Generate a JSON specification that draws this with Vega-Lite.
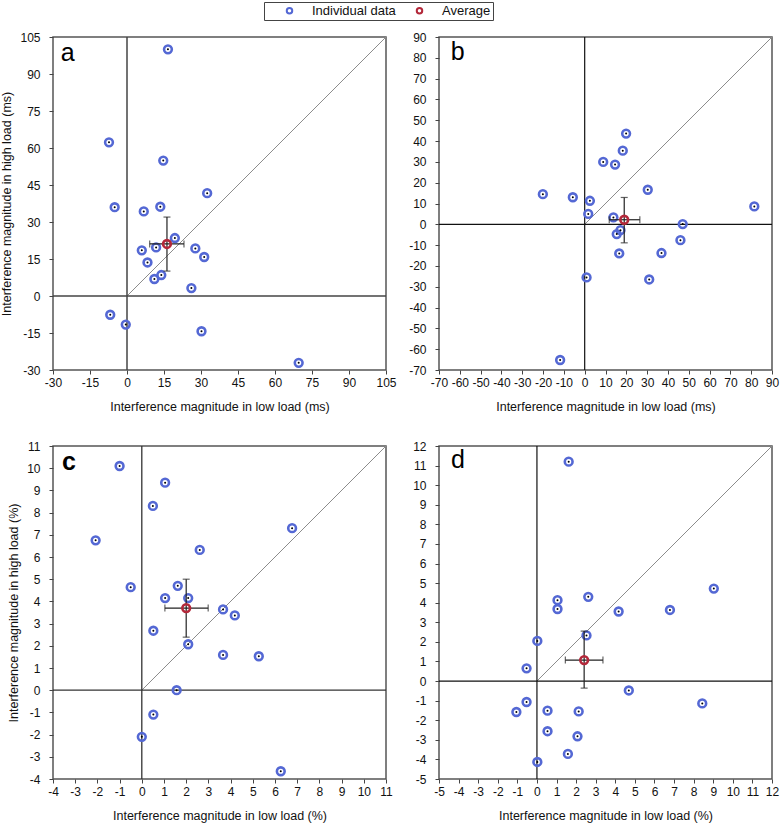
{
  "$schema": "https://vega.github.io/schema/vega-lite/v6.json",
  "padding": {"left": 0, "top": 0, "right": 2, "bottom": 0},
  "bounds": "flush",
  "columns": 2,
  "spacing": {"row": 76, "column": 53},
  "datasets": {
    "pts": [
      {"p": "a", "x": 16.6, "y": 100, "k": "Individual data"},
      {"p": "a", "x": -7.3, "y": 62.3, "k": "Individual data"},
      {"p": "a", "x": 14.7, "y": 54.9, "k": "Individual data"},
      {"p": "a", "x": 32.5, "y": 41.7, "k": "Individual data"},
      {"p": "a", "x": -5.0, "y": 36.0, "k": "Individual data"},
      {"p": "a", "x": 6.8, "y": 34.3, "k": "Individual data"},
      {"p": "a", "x": 13.5, "y": 36.2, "k": "Individual data"},
      {"p": "a", "x": 19.4, "y": 23.5, "k": "Individual data"},
      {"p": "a", "x": 11.8, "y": 19.7, "k": "Individual data"},
      {"p": "a", "x": 6.0, "y": 18.5, "k": "Individual data"},
      {"p": "a", "x": 27.7, "y": 19.3, "k": "Individual data"},
      {"p": "a", "x": 31.3, "y": 15.8, "k": "Individual data"},
      {"p": "a", "x": 8.3, "y": 13.6, "k": "Individual data"},
      {"p": "a", "x": 11.1, "y": 6.9, "k": "Individual data"},
      {"p": "a", "x": 13.9, "y": 8.5, "k": "Individual data"},
      {"p": "a", "x": 26.1, "y": 3.2, "k": "Individual data"},
      {"p": "a", "x": -6.8, "y": -7.6, "k": "Individual data"},
      {"p": "a", "x": -0.5, "y": -11.6, "k": "Individual data"},
      {"p": "a", "x": 30.2, "y": -14.3, "k": "Individual data"},
      {"p": "a", "x": 69.6, "y": -27.1, "k": "Individual data"},
      {"p": "b", "x": 19.9, "y": 43.6, "k": "Individual data"},
      {"p": "b", "x": 18.3, "y": 35.4, "k": "Individual data"},
      {"p": "b", "x": 8.9, "y": 30.0, "k": "Individual data"},
      {"p": "b", "x": 14.6, "y": 28.7, "k": "Individual data"},
      {"p": "b", "x": -20.1, "y": 14.5, "k": "Individual data"},
      {"p": "b", "x": -5.7, "y": 13.0, "k": "Individual data"},
      {"p": "b", "x": 2.5, "y": 11.3, "k": "Individual data"},
      {"p": "b", "x": 1.7, "y": 5.0, "k": "Individual data"},
      {"p": "b", "x": 30.3, "y": 16.6, "k": "Individual data"},
      {"p": "b", "x": 81.5, "y": 8.6, "k": "Individual data"},
      {"p": "b", "x": 13.8, "y": 3.3, "k": "Individual data"},
      {"p": "b", "x": 17.2, "y": -2.8, "k": "Individual data"},
      {"p": "b", "x": 15.4, "y": -4.7, "k": "Individual data"},
      {"p": "b", "x": 47.1, "y": 0.1, "k": "Individual data"},
      {"p": "b", "x": 46.0, "y": -7.6, "k": "Individual data"},
      {"p": "b", "x": 16.6, "y": -14.0, "k": "Individual data"},
      {"p": "b", "x": 36.9, "y": -13.8, "k": "Individual data"},
      {"p": "b", "x": 0.9, "y": -25.5, "k": "Individual data"},
      {"p": "b", "x": 31.0, "y": -26.5, "k": "Individual data"},
      {"p": "b", "x": -11.8, "y": -65.2, "k": "Individual data"},
      {"p": "c", "x": -1.0, "y": 10.1, "k": "Individual data"},
      {"p": "c", "x": 1.05, "y": 9.35, "k": "Individual data"},
      {"p": "c", "x": 0.5, "y": 8.3, "k": "Individual data"},
      {"p": "c", "x": -2.08, "y": 6.75, "k": "Individual data"},
      {"p": "c", "x": 6.77, "y": 7.3, "k": "Individual data"},
      {"p": "c", "x": 2.61, "y": 6.32, "k": "Individual data"},
      {"p": "c", "x": -0.5, "y": 4.64, "k": "Individual data"},
      {"p": "c", "x": 1.62, "y": 4.7, "k": "Individual data"},
      {"p": "c", "x": 1.05, "y": 4.15, "k": "Individual data"},
      {"p": "c", "x": 2.09, "y": 4.15, "k": "Individual data"},
      {"p": "c", "x": 3.66, "y": 3.64, "k": "Individual data"},
      {"p": "c", "x": 4.19, "y": 3.37, "k": "Individual data"},
      {"p": "c", "x": 0.52, "y": 2.68, "k": "Individual data"},
      {"p": "c", "x": 2.09, "y": 2.07, "k": "Individual data"},
      {"p": "c", "x": 3.66, "y": 1.59, "k": "Individual data"},
      {"p": "c", "x": 5.27, "y": 1.53, "k": "Individual data"},
      {"p": "c", "x": 1.57, "y": 0.0, "k": "Individual data"},
      {"p": "c", "x": 0.52, "y": -1.1, "k": "Individual data"},
      {"p": "c", "x": 0.0, "y": -2.1, "k": "Individual data"},
      {"p": "c", "x": 6.26, "y": -3.65, "k": "Individual data"},
      {"p": "d", "x": 1.62, "y": 11.2, "k": "Individual data"},
      {"p": "d", "x": 9.03, "y": 4.72, "k": "Individual data"},
      {"p": "d", "x": 2.62, "y": 4.3, "k": "Individual data"},
      {"p": "d", "x": 1.05, "y": 4.13, "k": "Individual data"},
      {"p": "d", "x": 1.05, "y": 3.68, "k": "Individual data"},
      {"p": "d", "x": 4.17, "y": 3.55, "k": "Individual data"},
      {"p": "d", "x": 6.79, "y": 3.63, "k": "Individual data"},
      {"p": "d", "x": 2.53, "y": 2.33, "k": "Individual data"},
      {"p": "d", "x": 0.02, "y": 2.05, "k": "Individual data"},
      {"p": "d", "x": -0.53, "y": 0.65, "k": "Individual data"},
      {"p": "d", "x": 4.69, "y": -0.48, "k": "Individual data"},
      {"p": "d", "x": -0.53, "y": -1.07, "k": "Individual data"},
      {"p": "d", "x": -1.05, "y": -1.58, "k": "Individual data"},
      {"p": "d", "x": 0.54, "y": -1.51, "k": "Individual data"},
      {"p": "d", "x": 2.13, "y": -1.55, "k": "Individual data"},
      {"p": "d", "x": 8.44, "y": -1.14, "k": "Individual data"},
      {"p": "d", "x": 0.54, "y": -2.56, "k": "Individual data"},
      {"p": "d", "x": 2.07, "y": -2.82, "k": "Individual data"},
      {"p": "d", "x": 1.58, "y": -3.72, "k": "Individual data"},
      {"p": "d", "x": 0.02, "y": -4.13, "k": "Individual data"}
    ],
    "avg": [
      {"p": "a", "x": 16.2, "y": 21.1, "k": "Average"},
      {"p": "b", "x": 19.0, "y": 2.2, "k": "Average"},
      {"p": "c", "x": 2.0, "y": 3.7, "k": "Average"},
      {"p": "d", "x": 2.41, "y": 1.07, "k": "Average"}
    ],
    "bars": [
      {"p": "a", "x": 9.2, "y": 21.1, "x2": 23.1, "y2": 21.1},
      {"p": "a", "x": 16.2, "y": 10.1, "x2": 16.2, "y2": 32.0},
      {"p": "b", "x": 11.8, "y": 2.2, "x2": 26.5, "y2": 2.2},
      {"p": "b", "x": 19.0, "y": -8.9, "x2": 19.0, "y2": 12.9},
      {"p": "c", "x": 1.04, "y": 3.7, "x2": 2.99, "y2": 3.7},
      {"p": "c", "x": 2.0, "y": 2.39, "x2": 2.0, "y2": 5.0},
      {"p": "d", "x": 1.45, "y": 1.07, "x2": 3.37, "y2": 1.07},
      {"p": "d", "x": 2.41, "y": -0.36, "x2": 2.41, "y2": 2.55}
    ],
    "caps": [
      {"p": "a", "o": "v", "x": 9.2, "y": 21.1}, {"p": "a", "o": "v", "x": 23.1, "y": 21.1},
      {"p": "a", "o": "h", "x": 16.2, "y": 10.1}, {"p": "a", "o": "h", "x": 16.2, "y": 32.0},
      {"p": "b", "o": "v", "x": 11.8, "y": 2.2}, {"p": "b", "o": "v", "x": 26.5, "y": 2.2},
      {"p": "b", "o": "h", "x": 19.0, "y": -8.9}, {"p": "b", "o": "h", "x": 19.0, "y": 12.9},
      {"p": "c", "o": "v", "x": 1.04, "y": 3.7}, {"p": "c", "o": "v", "x": 2.99, "y": 3.7},
      {"p": "c", "o": "h", "x": 2.0, "y": 2.39}, {"p": "c", "o": "h", "x": 2.0, "y": 5.0},
      {"p": "d", "o": "v", "x": 1.45, "y": 1.07}, {"p": "d", "o": "v", "x": 3.37, "y": 1.07},
      {"p": "d", "o": "h", "x": 2.41, "y": -0.36}, {"p": "d", "o": "h", "x": 2.41, "y": 2.55}
    ],
    "zero": [
      {"p": "a", "x": -30, "y": 0, "x2": 105, "y2": 0}, {"p": "a", "x": 0, "y": -30, "x2": 0, "y2": 105},
      {"p": "b", "x": -70, "y": 0, "x2": 90, "y2": 0}, {"p": "b", "x": 0, "y": -70, "x2": 0, "y2": 90},
      {"p": "c", "x": -4, "y": 0, "x2": 11, "y2": 0}, {"p": "c", "x": 0, "y": -4, "x2": 0, "y2": 11},
      {"p": "d", "x": -5, "y": 0, "x2": 12, "y2": 0}, {"p": "d", "x": 0, "y": -5, "x2": 0, "y2": 12}
    ],
    "diag": [
      {"p": "a", "x": 0, "y": 0}, {"p": "a", "x": 105, "y": 105},
      {"p": "b", "x": 0, "y": 0}, {"p": "b", "x": 90, "y": 90},
      {"p": "c", "x": 0, "y": 0}, {"p": "c", "x": 11, "y": 11},
      {"p": "d", "x": 0, "y": 0}, {"p": "d", "x": 12, "y": 12}
    ],
    "lab": [
      {"p": "a", "x": -24, "y": 98.5, "t": "a"},
      {"p": "b", "x": -61, "y": 83, "t": "b"},
      {"p": "c", "x": -3.28, "y": 10.3, "t": "c"},
      {"p": "d", "x": -4.03, "y": 11.27, "t": "d"}
    ]
  },
  "config": {
    "font": "Liberation Sans",
    "view": {"stroke": "#555", "strokeWidth": 1.5},
    "axis": {"domain": false, "grid": false, "tickColor": "#444", "tickSize": 4, "labelFontSize": 12, "labelColor": "#111", "titleFontSize": 12.5, "titleFontWeight": "normal", "titleColor": "#111", "labelOverlap": false, "labelFlush": false, "labelExpr": "replace(datum.label, '\u2212', '-')"},
    "axisX": {"labelPadding": 3, "titlePadding": 12},
    "axisY": {"labelPadding": 9, "titlePadding": 6},
    "point": {"shape": "circle", "opacity": 1},
    "tick": {"size": 7, "thickness": 1.2, "color": "#222"}
  },
  "resolve": {"scale": {"color": "independent"}, "legend": {"color": "independent"}},
  "concat": [
    {
      "width": 333, "height": 333,
      "encoding": {
        "x": {"field": "x", "type": "quantitative", "title": "Interference magnitude in low load (ms)", "scale": {"domain": [-30, 105], "nice": false, "zero": false}, "axis": {"values": [-30, -15, 0, 15, 30, 45, 60, 75, 90, 105]}},
        "y": {"field": "y", "type": "quantitative", "title": "Interference magnitude in high load (ms)", "scale": {"domain": [-30, 105], "nice": false, "zero": false}, "axis": {"values": [-30, -15, 0, 15, 30, 45, 60, 75, 90, 105]}}
      },
      "layer": [
        {"data": {"name": "diag"}, "transform": [{"filter": "datum.p == 'a'"}], "mark": {"type": "line", "color": "#8c8c8c", "strokeWidth": 1}},
        {"data": {"name": "zero"}, "transform": [{"filter": "datum.p == 'a'"}], "mark": {"type": "rule", "color": "#444", "strokeWidth": 1.5}, "encoding": {"x2": {"field": "x2"}, "y2": {"field": "y2"}}},
        {"data": {"name": "pts"}, "transform": [{"filter": "datum.p == 'a'"}], "mark": {"type": "point", "filled": false, "size": 60, "strokeWidth": 2.6},
         "encoding": {"color": {"field": "k", "type": "nominal", "scale": {"domain": ["Individual data", "Average"], "range": ["#5468d4", "#b3283a"]},
           "legend": {"title": null, "orient": "none", "legendX": 211, "legendY": -35, "direction": "horizontal", "columns": 2, "columnPadding": -8, "strokeColor": "#444", "padding": 2, "symbolSize": 30, "symbolStrokeWidth": 2, "symbolOffset": 17, "labelOffset": 16, "labelFontSize": 13, "labelColor": "#111"}}}},
        {"data": {"name": "pts"}, "transform": [{"filter": "datum.p == 'a'"}], "mark": {"type": "point", "filled": true, "size": 4, "color": "#000"}},
        {"data": {"name": "bars"}, "transform": [{"filter": "datum.p == 'a'"}], "mark": {"type": "rule", "color": "#222", "strokeWidth": 1.2}, "encoding": {"x2": {"field": "x2"}, "y2": {"field": "y2"}}},
        {"data": {"name": "caps"}, "transform": [{"filter": "datum.p == 'a' && datum.o == 'v'"}], "mark": {"type": "tick", "orient": "vertical"}},
        {"data": {"name": "caps"}, "transform": [{"filter": "datum.p == 'a' && datum.o == 'h'"}], "mark": {"type": "tick", "orient": "horizontal"}},
        {"data": {"name": "avg"}, "transform": [{"filter": "datum.p == 'a'"}], "mark": {"type": "point", "filled": false, "size": 60, "strokeWidth": 2.6},
         "encoding": {"color": {"field": "k", "type": "nominal"}}},
        {"data": {"name": "lab"}, "transform": [{"filter": "datum.p == 'a'"}], "mark": {"type": "text", "fontSize": 25, "align": "center", "baseline": "middle", "color": "#000"},
         "encoding": {"text": {"field": "t"}}}
      ]
    },
    {
      "width": 333, "height": 333,
      "encoding": {
        "x": {"field": "x", "type": "quantitative", "title": "Interference magnitude in low load (ms)", "scale": {"domain": [-70, 90], "nice": false, "zero": false}, "axis": {"values": [-70, -60, -50, -40, -30, -20, -10, 0, 10, 20, 30, 40, 50, 60, 70, 80, 90]}},
        "y": {"field": "y", "type": "quantitative", "title": null, "scale": {"domain": [-70, 90], "nice": false, "zero": false}, "axis": {"values": [-70, -60, -50, -40, -30, -20, -10, 0, 10, 20, 30, 40, 50, 60, 70, 80, 90]}}
      },
      "layer": [
        {"data": {"name": "diag"}, "transform": [{"filter": "datum.p == 'b'"}], "mark": {"type": "line", "color": "#8c8c8c", "strokeWidth": 1}},
        {"data": {"name": "zero"}, "transform": [{"filter": "datum.p == 'b'"}], "mark": {"type": "rule", "color": "#111", "strokeWidth": 1.2}, "encoding": {"x2": {"field": "x2"}, "y2": {"field": "y2"}}},
        {"data": {"name": "pts"}, "transform": [{"filter": "datum.p == 'b'"}], "mark": {"type": "point", "filled": false, "size": 60, "strokeWidth": 2.6},
         "encoding": {"color": {"field": "k", "type": "nominal", "scale": {"domain": ["Individual data", "Average"], "range": ["#5468d4", "#b3283a"]}, "legend": null}}},
        {"data": {"name": "pts"}, "transform": [{"filter": "datum.p == 'b'"}], "mark": {"type": "point", "filled": true, "size": 4, "color": "#000"}},
        {"data": {"name": "bars"}, "transform": [{"filter": "datum.p == 'b'"}], "mark": {"type": "rule", "color": "#222", "strokeWidth": 1.2}, "encoding": {"x2": {"field": "x2"}, "y2": {"field": "y2"}}},
        {"data": {"name": "caps"}, "transform": [{"filter": "datum.p == 'b' && datum.o == 'v'"}], "mark": {"type": "tick", "orient": "vertical"}},
        {"data": {"name": "caps"}, "transform": [{"filter": "datum.p == 'b' && datum.o == 'h'"}], "mark": {"type": "tick", "orient": "horizontal"}},
        {"data": {"name": "avg"}, "transform": [{"filter": "datum.p == 'b'"}], "mark": {"type": "point", "filled": false, "size": 60, "strokeWidth": 2.6},
         "encoding": {"color": {"field": "k", "type": "nominal", "legend": null}}},
        {"data": {"name": "lab"}, "transform": [{"filter": "datum.p == 'b'"}], "mark": {"type": "text", "fontSize": 25, "align": "center", "baseline": "middle", "color": "#000"},
         "encoding": {"text": {"field": "t"}}}
      ]
    },
    {
      "width": 333, "height": 333,
      "encoding": {
        "x": {"field": "x", "type": "quantitative", "title": "Interference magnitude in low load (%)", "scale": {"domain": [-4, 11], "nice": false, "zero": false}, "axis": {"values": [-4, -3, -2, -1, 0, 1, 2, 3, 4, 5, 6, 7, 8, 9, 10, 11]}},
        "y": {"field": "y", "type": "quantitative", "title": "Interference magnitude in high load (%)", "scale": {"domain": [-4, 11], "nice": false, "zero": false}, "axis": {"values": [-4, -3, -2, -1, 0, 1, 2, 3, 4, 5, 6, 7, 8, 9, 10, 11]}}
      },
      "layer": [
        {"data": {"name": "diag"}, "transform": [{"filter": "datum.p == 'c'"}], "mark": {"type": "line", "color": "#8c8c8c", "strokeWidth": 1}},
        {"data": {"name": "zero"}, "transform": [{"filter": "datum.p == 'c'"}], "mark": {"type": "rule", "color": "#333", "strokeWidth": 1.3}, "encoding": {"x2": {"field": "x2"}, "y2": {"field": "y2"}}},
        {"data": {"name": "pts"}, "transform": [{"filter": "datum.p == 'c'"}], "mark": {"type": "point", "filled": false, "size": 60, "strokeWidth": 2.6},
         "encoding": {"color": {"field": "k", "type": "nominal", "scale": {"domain": ["Individual data", "Average"], "range": ["#5468d4", "#b3283a"]}, "legend": null}}},
        {"data": {"name": "pts"}, "transform": [{"filter": "datum.p == 'c'"}], "mark": {"type": "point", "filled": true, "size": 4, "color": "#000"}},
        {"data": {"name": "bars"}, "transform": [{"filter": "datum.p == 'c'"}], "mark": {"type": "rule", "color": "#222", "strokeWidth": 1.2}, "encoding": {"x2": {"field": "x2"}, "y2": {"field": "y2"}}},
        {"data": {"name": "caps"}, "transform": [{"filter": "datum.p == 'c' && datum.o == 'v'"}], "mark": {"type": "tick", "orient": "vertical"}},
        {"data": {"name": "caps"}, "transform": [{"filter": "datum.p == 'c' && datum.o == 'h'"}], "mark": {"type": "tick", "orient": "horizontal"}},
        {"data": {"name": "avg"}, "transform": [{"filter": "datum.p == 'c'"}], "mark": {"type": "point", "filled": false, "size": 60, "strokeWidth": 2.6},
         "encoding": {"color": {"field": "k", "type": "nominal", "legend": null}}},
        {"data": {"name": "lab"}, "transform": [{"filter": "datum.p == 'c'"}], "mark": {"type": "text", "fontSize": 25, "fontWeight": "bold", "align": "center", "baseline": "middle", "color": "#000"},
         "encoding": {"text": {"field": "t"}}}
      ]
    },
    {
      "width": 333, "height": 333,
      "encoding": {
        "x": {"field": "x", "type": "quantitative", "title": "Interference magnitude in low load (%)", "scale": {"domain": [-5, 12], "nice": false, "zero": false}, "axis": {"values": [-5, -4, -3, -2, -1, 0, 1, 2, 3, 4, 5, 6, 7, 8, 9, 10, 11, 12]}},
        "y": {"field": "y", "type": "quantitative", "title": null, "scale": {"domain": [-5, 12], "nice": false, "zero": false}, "axis": {"values": [-5, -4, -3, -2, -1, 0, 1, 2, 3, 4, 5, 6, 7, 8, 9, 10, 11, 12]}}
      },
      "layer": [
        {"data": {"name": "diag"}, "transform": [{"filter": "datum.p == 'd'"}], "mark": {"type": "line", "color": "#8c8c8c", "strokeWidth": 1}},
        {"data": {"name": "zero"}, "transform": [{"filter": "datum.p == 'd'"}], "mark": {"type": "rule", "color": "#111", "strokeWidth": 1.2}, "encoding": {"x2": {"field": "x2"}, "y2": {"field": "y2"}}},
        {"data": {"name": "pts"}, "transform": [{"filter": "datum.p == 'd'"}], "mark": {"type": "point", "filled": false, "size": 60, "strokeWidth": 2.6},
         "encoding": {"color": {"field": "k", "type": "nominal", "scale": {"domain": ["Individual data", "Average"], "range": ["#5468d4", "#b3283a"]}, "legend": null}}},
        {"data": {"name": "pts"}, "transform": [{"filter": "datum.p == 'd'"}], "mark": {"type": "point", "filled": true, "size": 4, "color": "#000"}},
        {"data": {"name": "bars"}, "transform": [{"filter": "datum.p == 'd'"}], "mark": {"type": "rule", "color": "#222", "strokeWidth": 1.2}, "encoding": {"x2": {"field": "x2"}, "y2": {"field": "y2"}}},
        {"data": {"name": "caps"}, "transform": [{"filter": "datum.p == 'd' && datum.o == 'v'"}], "mark": {"type": "tick", "orient": "vertical"}},
        {"data": {"name": "caps"}, "transform": [{"filter": "datum.p == 'd' && datum.o == 'h'"}], "mark": {"type": "tick", "orient": "horizontal"}},
        {"data": {"name": "avg"}, "transform": [{"filter": "datum.p == 'd'"}], "mark": {"type": "point", "filled": false, "size": 60, "strokeWidth": 2.6},
         "encoding": {"color": {"field": "k", "type": "nominal", "legend": null}}},
        {"data": {"name": "lab"}, "transform": [{"filter": "datum.p == 'd'"}], "mark": {"type": "text", "fontSize": 25, "align": "center", "baseline": "middle", "color": "#000"},
         "encoding": {"text": {"field": "t"}}}
      ]
    }
  ]
}
